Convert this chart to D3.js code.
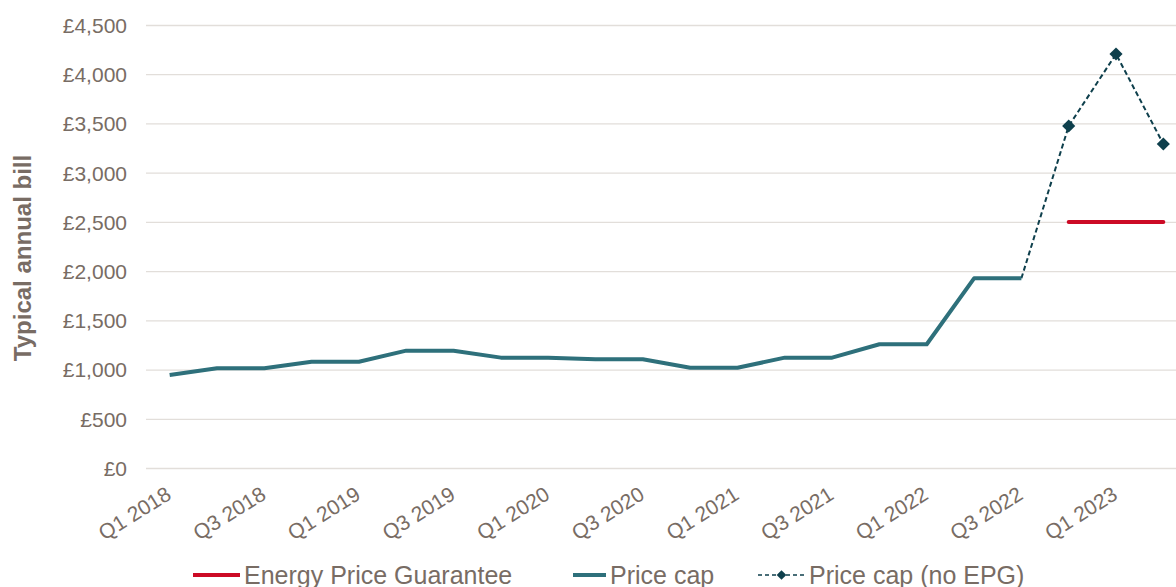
<!DOCTYPE html>
<html>
<head>
<meta charset="utf-8">
<script src="https://cdn.jsdelivr.net/npm/d3@7"></script>
<style>
  body { margin: 0; background: #fff; }
  text { font-family: "Liberation Sans", Arial, sans-serif; fill: #786c64; }
</style>
</head>
<body>
<div id="chart"></div>
<script>
// Quarters on the x axis
var quarters = ["Q1 2018", "Q2 2018", "Q3 2018", "Q4 2018",
  "Q1 2019", "Q2 2019", "Q3 2019", "Q4 2019",
  "Q1 2020", "Q2 2020", "Q3 2020", "Q4 2020",
  "Q1 2021", "Q2 2021", "Q3 2021", "Q4 2021",
  "Q1 2022", "Q2 2022", "Q3 2022", "Q4 2022",
  "Q1 2023", "Q2 2023"];

// Only every other quarter gets a label
var tickLabels = ["Q1 2018", "Q3 2018", "Q1 2019", "Q3 2019", "Q1 2020", "Q3 2020",
  "Q1 2021", "Q3 2021", "Q1 2022", "Q3 2022", "Q1 2023"];

// Series values (£)
var priceCap = [945, 1013, 1013, 1080, 1080, 1192, 1192, 1121, 1121, 1104, 1104, 1018,
  1018, 1121, 1121, 1257, 1257, 1927, 1927, null, null, null];
var priceCapNoEpg = [null, null, null, null, null, null, null, null, null, null, null, null,
  null, null, null, null, null, null, 1927, 3474, 4205, 3291];
var epg = [null, null, null, null, null, null, null, null, null, null, null, null,
  null, null, null, null, null, null, null, 2500, 2500, 2500];

var yTicks = [0, 500, 1000, 1500, 2000, 2500, 3000, 3500, 4000, 4500];

var svgWidth = 1176;
var svgHeight = 587;

var svg = d3.select("#chart")
  .append("svg")
  .attr("width", svgWidth)
  .attr("height", svgHeight);

// Plot area runs a little past the right edge of the picture
var xScale = d3.scaleBand()
  .domain(quarters)
  .range([146, 1187])
  .padding(0);

var yScale = d3.scaleLinear()
  .domain([0, 4500])
  .range([468, 25]);

var xPos = function(q) { return xScale(q) + xScale.bandwidth() / 2; };

// Gridlines + y labels
var leftAxis = d3.axisLeft(yScale)
  .tickValues(yTicks)
  .tickSize(-(1187 - 146))
  .tickPadding(19)
  .tickFormat(function(d) { return "£" + d3.format(",")(d); });

var yAxisGroup = svg.append("g")
  .attr("transform", "translate(146, 0)")
  .call(leftAxis);
yAxisGroup.select(".domain").remove();
yAxisGroup.selectAll(".tick line")
  .attr("stroke", "#e2deda")
  .attr("stroke-width", 1.3);
yAxisGroup.selectAll(".tick text")
  .style("font-size", "21px")
  .attr("fill", "#786c64")
  .attr("dy", "0.35em");

// X labels, rotated
var bottomAxis = d3.axisBottom(xScale)
  .tickValues(tickLabels)
  .tickSize(0)
  .tickPadding(0);

var xAxisGroup = svg.append("g")
  .attr("transform", "translate(0, 468)")
  .call(bottomAxis);
xAxisGroup.select(".domain").remove();
xAxisGroup.selectAll(".tick text")
  .style("font-size", "21px")
  .attr("fill", "#786c64")
  .attr("text-anchor", "end")
  .attr("x", 0)
  .attr("y", 0)
  .attr("dy", 0)
  .attr("transform", "translate(3, 30) rotate(-32)");

// Y axis title
svg.append("text")
  .attr("transform", "translate(31, 258) rotate(-90)")
  .attr("text-anchor", "middle")
  .style("font-size", "24px")
  .style("font-weight", "bold")
  .text("Typical annual bill");

// Lines
var line = d3.line()
  .defined(function(d) { return d.v != null; })
  .x(function(d) { return xPos(d.q); })
  .y(function(d) { return yScale(d.v); });

var toPoints = function(arr) {
  return quarters.map(function(q, i) { return { q: q, v: arr[i] }; });
};

svg.append("path")
  .datum(toPoints(priceCapNoEpg))
  .attr("d", line)
  .attr("fill", "none")
  .attr("stroke", "#0e3f4c")
  .attr("stroke-width", 2)
  .attr("stroke-dasharray", "5,3");

svg.append("path")
  .datum(toPoints(priceCap))
  .attr("d", line)
  .attr("fill", "none")
  .attr("stroke", "#2e707b")
  .attr("stroke-width", 4)
  .attr("stroke-linejoin", "round");

svg.append("path")
  .datum(toPoints(epg))
  .attr("d", line)
  .attr("fill", "none")
  .attr("stroke", "#cc0a25")
  .attr("stroke-width", 4)
  .attr("stroke-linecap", "round");

// Diamond markers on the projected values only (after Q3 2022)
var diamond = d3.symbol().type(d3.symbolDiamond2).size(110);
svg.selectAll(".marker")
  .data(toPoints(priceCapNoEpg).filter(function(d, i) { return d.v != null && i > 18; }))
  .enter()
  .append("path")
  .attr("class", "marker")
  .attr("d", diamond)
  .attr("transform", function(d) { return "translate(" + xPos(d.q) + "," + yScale(d.v) + ")"; })
  .attr("fill", "#0e3f4c");

// Legend
var legendItems = [
  { name: "Energy Price Guarantee", x: 193, w: 47, color: "#cc0a25", width: 4, dash: null, marker: false },
  { name: "Price cap", x: 573, w: 33, color: "#2e707b", width: 4, dash: null, marker: false },
  { name: "Price cap (no EPG)", x: 758, w: 47, color: "#0e3f4c", width: 1.6, dash: "4,3", marker: true }
];

var legend = svg.selectAll(".legend")
  .data(legendItems)
  .enter()
  .append("g")
  .attr("class", "legend");

legend.append("line")
  .attr("x1", function(d) { return d.x; })
  .attr("x2", function(d) { return d.x + d.w; })
  .attr("y1", 575)
  .attr("y2", 575)
  .attr("stroke", function(d) { return d.color; })
  .attr("stroke-width", function(d) { return d.width; })
  .attr("stroke-dasharray", function(d) { return d.dash; });

legend.filter(function(d) { return d.marker; })
  .append("path")
  .attr("d", d3.symbol().type(d3.symbolDiamond2).size(60))
  .attr("transform", function(d) { return "translate(" + (d.x + d.w / 2) + ",575)"; })
  .attr("fill", function(d) { return d.color; });

legend.append("text")
  .attr("x", function(d) { return d.x + d.w + 4; })
  .attr("y", 584)
  .style("font-size", "25px")
  .text(function(d) { return d.name; });
</script>
</body>
</html>
